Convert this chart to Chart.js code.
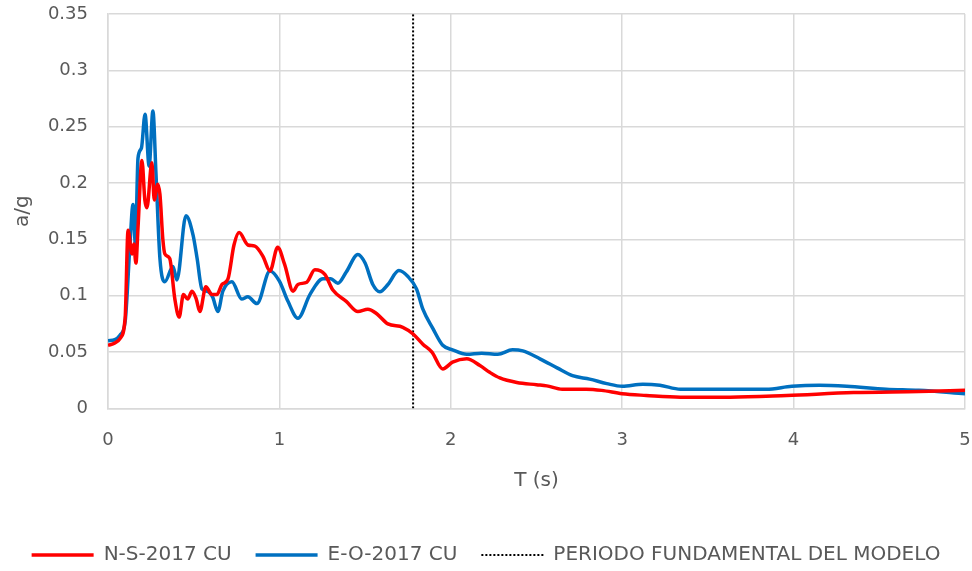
<!DOCTYPE html>
<html lang="es">
<head>
<meta charset="UTF-8">
<title>Espectro de respuesta 2017 CU</title>
<script src="https://cdn.jsdelivr.net/npm/chart.js"></script>
<style>
    html, body { margin: 0; padding: 0; background: #fff; }
    #wrap { width: 972px; height: 571px; }
</style>
</head>
<body>
<div id="wrap"><canvas id="spectrum" width="972" height="571"></canvas></div>
<script>
// periodos (s) y aceleraciones espectrales (a/g)
const nsT = [0, 0.04, 0.07, 0.1, 0.117, 0.14, 0.15, 0.163, 0.175, 0.198, 0.215, 0.227, 0.256, 0.27, 0.29, 0.303, 0.32, 0.332, 0.36, 0.39,
    0.415, 0.44, 0.465, 0.49, 0.515, 0.536, 0.571, 0.606, 0.635, 0.665, 0.7, 0.735, 0.765, 0.816, 0.857, 0.904, 0.945, 0.99, 1.03, 1.08,
    1.108, 1.16, 1.207, 1.265, 1.312, 1.39, 1.458, 1.516, 1.568, 1.633, 1.72, 1.78, 1.837, 1.89, 1.953, 2.01, 2.093, 2.17, 2.227, 2.286,
    2.385, 2.5, 2.56, 2.65, 2.79, 2.88, 3.0, 3.14, 3.34, 3.63, 3.96, 4.35, 4.73, 5.0];
const nsA = [0.056, 0.058, 0.062, 0.08, 0.158, 0.137, 0.146, 0.129, 0.16, 0.22, 0.185, 0.178, 0.218, 0.185, 0.199, 0.19, 0.15, 0.137, 0.133, 0.097,
    0.081, 0.101, 0.097, 0.104, 0.097, 0.086, 0.108, 0.101, 0.101, 0.11, 0.115, 0.145, 0.156, 0.145, 0.144, 0.135, 0.122, 0.143, 0.128, 0.104,
    0.11, 0.112, 0.123, 0.119, 0.105, 0.095, 0.086, 0.088, 0.084, 0.075, 0.072, 0.066, 0.057, 0.05, 0.035, 0.041, 0.044, 0.038, 0.032, 0.027,
    0.023, 0.021, 0.02, 0.017, 0.017, 0.016, 0.013, 0.0115, 0.01, 0.01, 0.0115, 0.014, 0.015, 0.016];

const eoT = [0, 0.04, 0.07, 0.1, 0.128, 0.146, 0.16, 0.175, 0.195, 0.216, 0.24, 0.262, 0.28, 0.303, 0.332, 0.379, 0.402, 0.455, 0.496, 0.52,
    0.548, 0.58, 0.61, 0.641, 0.67, 0.723, 0.78, 0.816, 0.869, 0.945, 1.0, 1.05, 1.108, 1.178, 1.254, 1.3, 1.341, 1.39, 1.458, 1.5,
    1.545, 1.586, 1.633, 1.697, 1.75, 1.8, 1.837, 1.895, 1.953, 2.01, 2.093, 2.18, 2.274, 2.36, 2.42, 2.52, 2.62, 2.71, 2.81, 2.91,
    3.0, 3.12, 3.22, 3.34, 3.63, 3.84, 3.99, 4.15, 4.31, 4.54, 4.73, 5.0];
const eoA = [0.06, 0.061, 0.065, 0.077, 0.145, 0.181, 0.145, 0.222, 0.231, 0.261, 0.215, 0.264, 0.208, 0.133, 0.1125, 0.126, 0.114, 0.171, 0.154, 0.133,
    0.106, 0.104, 0.099, 0.086, 0.104, 0.1125, 0.097, 0.099, 0.093, 0.122, 0.113, 0.095, 0.08, 0.101, 0.115, 0.115, 0.111, 0.121, 0.1366, 0.129,
    0.11, 0.1036, 0.11, 0.1223, 0.117, 0.106, 0.088, 0.071, 0.056, 0.052, 0.048, 0.049, 0.048, 0.052, 0.051, 0.044, 0.036, 0.029, 0.026, 0.022,
    0.0196, 0.0214, 0.0205, 0.017, 0.017, 0.017, 0.0196, 0.0205, 0.0196, 0.017, 0.016, 0.013];

const periodoModelo = 1.78;
const seriesNames = ["N-S-2017 CU", "E-O-2017 CU", "PERIODO FUNDAMENTAL DEL MODELO"];
const yMax = 0.35;

const toPoints = (xs, ys) => xs.map((x, i) => ({ x: x, y: ys[i] }));

const font = "'DejaVu Sans', 'Open Sans', sans-serif";
const textColor = "#595959";
const gridColor = "#d9d9d9";

new Chart(document.getElementById("spectrum"), {
    type: "scatter",
    data: {
        datasets: [
            {
                label: seriesNames[0],
                data: toPoints(nsT, nsA),
                showLine: true,
                borderColor: "#ff0000",
                backgroundColor: "#ff0000",
                borderWidth: 3.5,
                pointRadius: 0,
                cubicInterpolationMode: "monotone"
            },
            {
                label: seriesNames[1],
                data: toPoints(eoT, eoA),
                showLine: true,
                borderColor: "#0070c0",
                backgroundColor: "#0070c0",
                borderWidth: 3.5,
                pointRadius: 0,
                cubicInterpolationMode: "monotone"
            },
            {
                label: seriesNames[2],
                data: [{ x: periodoModelo, y: 0 }, { x: periodoModelo, y: yMax }],
                showLine: true,
                borderColor: "#000000",
                backgroundColor: "#000000",
                borderWidth: 2,
                borderDash: [2, 2],
                pointRadius: 0
            }
        ]
    },
    options: {
        responsive: false,
        animation: false,
        layout: { padding: { top: 14, right: 0, left: 0, bottom: -4 } },
        scales: {
            x: {
                type: "linear",
                min: 0,
                max: 5,
                ticks: { stepSize: 1, color: textColor, padding: 21, font: { family: font, size: 18 } },
                grid: { color: gridColor, lineWidth: 1.5, drawTicks: false },
                border: { color: gridColor, width: 1.5 },
                title: { display: true, text: "T (s)", color: textColor, padding: { top: -3, bottom: 28 }, font: { family: font, size: 20 } },
                afterFit: s => { s.paddingLeft = 0; s.paddingRight = 7; }
            },
            y: {
                min: 0,
                max: yMax,
                ticks: {
                    stepSize: 0.05, color: textColor, padding: 20, font: { family: font, size: 18 },
                    callback: v => String(+v.toFixed(2))
                },
                grid: { color: gridColor, lineWidth: 1.5, drawTicks: false },
                border: { color: gridColor, width: 1.5 },
                title: { display: true, text: "a/g", color: textColor, padding: { top: 11, bottom: 6 }, font: { family: font, size: 20 } },
                afterFit: s => { s.width = 108; s.paddingTop = 0; s.paddingBottom = 0; }
            }
        },
        plugins: {
            legend: {
                position: "bottom",
                labels: {
                    usePointStyle: true,
                    pointStyle: "line",
                    pointStyleWidth: 62,
                    boxWidth: 62,
                    color: textColor,
                    padding: 24,
                    font: { family: font, size: 20 },
                    generateLabels: chart => Chart.defaults.plugins.legend.labels.generateLabels(chart).map(item => {
                        const ds = chart.data.datasets[item.datasetIndex];
                        item.lineDash = ds.borderDash || [];
                        item.lineWidth = ds.borderWidth;
                        item.strokeStyle = ds.borderColor;
                        return item;
                    })
                }
            },
            tooltip: { enabled: false }
        }
    }
});
</script>
</body>
</html>
